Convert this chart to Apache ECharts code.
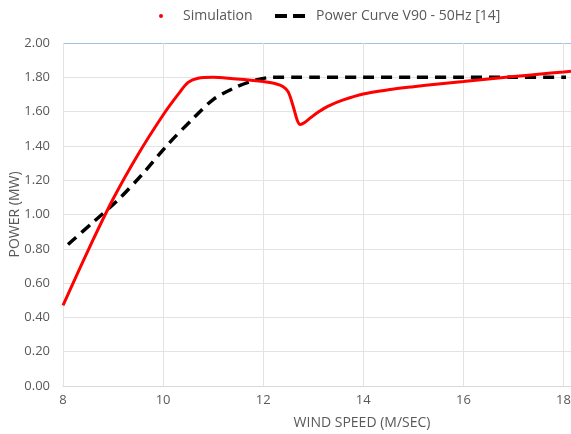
<!DOCTYPE html>
<html>
<head>
    <meta charset="utf-8">
    <title>Power curve</title>
    <script src="https://cdn.jsdelivr.net/npm/echarts@6/dist/echarts.min.js"></script>
</head>
<body style="margin:0">
<div id="container" style="width: 571px;height: 434px;"></div>

<script type="text/javascript">

    // wind speed (m/s) and power (MW) of the simulation
    var simSpeed = [8.0, 8.5, 9.0, 9.5, 10.0, 10.3, 10.5, 10.7, 11.0,
        11.4, 11.8, 12.0, 12.25, 12.4, 12.5, 12.6, 12.68, 12.74, 12.82, 12.95, 13.1, 13.3, 13.6,
        14.0, 14.5, 15.0, 15.5, 16.0, 16.5, 17.0, 17.5, 18.0, 18.15];
    var simPower = [0.47, 0.79, 1.09, 1.35, 1.58, 1.70, 1.77, 1.795, 1.80,
        1.792, 1.782, 1.775, 1.762, 1.745, 1.715, 1.63, 1.55, 1.525, 1.535, 1.565, 1.597, 1.632, 1.668,
        1.703, 1.727, 1.745, 1.761, 1.775, 1.79, 1.804, 1.818, 1.831, 1.836];

    // manufacturer power curve
    var refSpeed = [8.1, 8.6, 9.1, 9.6, 10.1, 10.6, 11.0, 11.4, 11.8, 12.2, 12.6, 13, 14, 15, 16, 17, 18.05];
    var refPower = [0.825, 0.955, 1.085, 1.24, 1.41, 1.56, 1.67, 1.735, 1.78, 1.80, 1.80, 1.80, 1.80, 1.80, 1.80, 1.80, 1.80];

    function pairs(xs, ys) {
        var out = [];
        for (var i = 0; i < xs.length; i++) {
            out.push([xs[i], ys[i]]);
        }
        return out;
    }

    var dom = document.getElementById("container");
    var myChart = echarts.init(dom);
    var txt = '#595959';
    var grid = '#d9d9d9';

    var option = {
        animation: false,
        textStyle: {fontFamily: 'Open Sans'},
        legend: [
            {
                data: [{name: 'Simulation', icon: 'circle'}],
                left: 159,
                top: 9,
                padding: 0,
                itemWidth: 4,
                itemHeight: 4,
                textStyle: {color: txt, fontSize: 14, padding: [0, 0, 0, 15]}
            },
            {
                data: [{name: 'Power Curve V90 - 50Hz [14]', icon: 'path://M0,0h12v3h-12z M18,0h12v3h-12z'}],
                left: 275,
                top: 9,
                padding: 0,
                itemWidth: 30,
                itemHeight: 4,
                symbolKeepAspect: false,
                textStyle: {color: txt, fontSize: 14, padding: [0, 0, 0, 6]}
            }
        ],
        grid: {left: 63, right: 0, top: 43, bottom: 48, outerBoundsMode: 'none'},
        xAxis: {
            type: 'value',
            min: 8,
            max: 18.15,
            interval: 2,
            name: 'WIND SPEED (M/SEC)',
            nameLocation: 'middle',
            nameGap: 30,
            nameMoveOverlap: false,
            nameTextStyle: {color: txt, fontSize: 14, padding: [0, 0, 0, 90]},
            axisLine: {show: true, lineStyle: {color: grid}},
            axisTick: {show: false},
            axisLabel: {color: txt, fontSize: 13, margin: 8, showMaxLabel: false},
            splitLine: {show: true, lineStyle: {color: '#e3e3e3'}}
        },
        yAxis: {
            type: 'value',
            min: 0,
            max: 2,
            interval: 0.2,
            name: 'POWER (MW)',
            nameLocation: 'middle',
            nameGap: 41,
            nameMoveOverlap: false,
            nameTextStyle: {color: txt, fontSize: 14},
            axisLine: {show: false},
            axisTick: {show: false},
            axisLabel: {
                color: txt, fontSize: 13, margin: 13,
                formatter: function (v) { return v.toFixed(2); }
            },
            splitLine: {
                lineStyle: {
                    color: ['#e3e3e3', '#e3e3e3', '#e3e3e3', '#e3e3e3', '#e3e3e3', '#e3e3e3',
                        '#e3e3e3', '#e3e3e3', '#e3e3e3', '#e3e3e3', '#9dc3e6']
                }
            }
        },
        series: [
            {
                name: 'Power Curve V90 - 50Hz [14]',
                type: 'line',
                symbol: 'none',
                smooth: 0.3,
                color: '#000000',
                lineStyle: {color: '#000000', width: 3.5, type: [11, 7], cap: 'butt'},
                data: pairs(refSpeed, refPower),
                z: 2
            },
            {
                name: 'Simulation',
                type: 'line',
                symbol: 'none',
                smooth: 0.3,
                color: '#ff0000',
                lineStyle: {color: '#ff0000', width: 3},
                data: pairs(simSpeed, simPower),
                z: 3
            }
        ]
    };

    myChart.setOption(option, true);

</script>
</body>
</html>
